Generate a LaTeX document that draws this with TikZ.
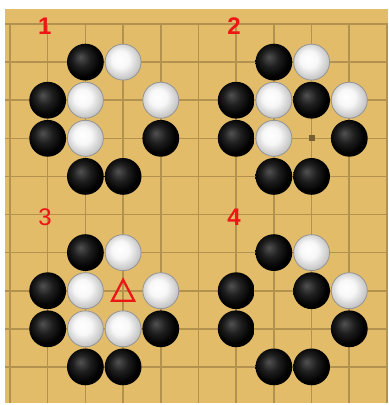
\documentclass[tikz,border=0pt]{standalone}
\usepackage{fontspec}
\setmainfont{Liberation Sans}
\usepackage{tikz}
\definecolor{board}{RGB}{226,188,105}
\definecolor{gridline}{RGB}{178,146,78}
\definecolor{hoshi}{RGB}{120,95,50}
\definecolor{markred}{RGB}{236,22,22}
\pgfdeclareradialshading{blackstone}{\pgfpoint{-7bp}{7bp}}{color(0bp)=(black!68); color(12bp)=(black!88); color(24bp)=(black); color(50bp)=(black)}
\pgfdeclareradialshading{whitestone}{\pgfpoint{-5bp}{5bp}}{color(0bp)=(white); color(12bp)=(white!97!black); color(24bp)=(white!80!black); color(30bp)=(white!72!black); color(50bp)=(white!72!black)}
\tikzset{
  bs/.style={circle, minimum size=36.8pt, inner sep=0pt, shading=blackstone},
  ws/.style={circle, minimum size=36pt, inner sep=0pt, shading=whitestone, draw=black!42, line width=0.8pt},
  num/.style={text=markred, font=\bfseries\fontsize{24}{24}\selectfont},
  thinnum/.style={text=markred, font=\fontsize{24}{24}\selectfont}
}

\begin{document}
\begin{tikzpicture}[x=37.7pt, y=-38.1pt]
\useasboundingbox (-0.265,-0.63) rectangle (10.027,10.0);
% board
\fill[board] (-0.133,-0.394) rectangle (10.027,9.95);
\foreach \r in {0,...,9}
  \draw[gridline, line width=1.6pt] (-0.133,\r) -- (10.027,\r);
\foreach \c in {0,...,10}
  \draw[gridline, line width=1.6pt] (\c,0) -- (\c,9.95);
\fill[hoshi] (8,3) +(-3pt,-3pt) rectangle +(3pt,3pt);
% labels
\node[num] (n1) at (0.92,0.05) {1};
\node[num] (n2) at (5.94,0.05) {2};
\node[thinnum] (n3) at (0.93,5.07) {3};
\node[num] (n4) at (5.94,5.07) {4};
% 1
\node[bs] (a-b1) at (2,1) {};
\node[ws] (a-w1) at (3,1) {};
\node[bs] (a-b2) at (1,2) {};
\node[ws] (a-w2) at (2,2) {};
\node[ws] (a-w3) at (4,2) {};
\node[bs] (a-b3) at (1,3) {};
\node[ws] (a-w4) at (2,3) {};
\node[bs] (a-b4) at (4,3) {};
\node[bs] (a-b5) at (2,4) {};
\node[bs] (a-b6) at (3,4) {};
% 2
\node[bs] (b-b1) at (7,1) {};
\node[ws] (b-w1) at (8,1) {};
\node[bs] (b-b2) at (6,2) {};
\node[ws] (b-w2) at (7,2) {};
\node[bs] (b-b3) at (8,2) {};
\node[ws] (b-w3) at (9,2) {};
\node[bs] (b-b4) at (6,3) {};
\node[ws] (b-w4) at (7,3) {};
\node[bs] (b-b5) at (9,3) {};
\node[bs] (b-b6) at (7,4) {};
\node[bs] (b-b7) at (8,4) {};
% 3
\node[bs] (c-b1) at (2,6) {};
\node[ws] (c-w1) at (3,6) {};
\node[bs] (c-b2) at (1,7) {};
\node[ws] (c-w2) at (2,7) {};
\node[ws] (c-w3) at (4,7) {};
\node[bs] (c-b3) at (1,8) {};
\node[ws] (c-w4) at (2,8) {};
\node[ws] (c-w5) at (3,8) {};
\node[bs] (c-b4) at (4,8) {};
\node[bs] (c-b5) at (2,9) {};
\node[bs] (c-b6) at (3,9) {};
\coordinate (tri) at (3,7);
\draw[draw=markred, line width=2.3pt] ([shift={(0pt,11pt)}]tri) -- ([shift={(-11pt,-10pt)}]tri)
  -- ([shift={(11pt,-10pt)}]tri) -- cycle;
% 4
\node[bs] (d-b1) at (7,6) {};
\node[ws] (d-w1) at (8,6) {};
\node[bs] (d-b2) at (6,7) {};
\node[bs] (d-b3) at (8,7) {};
\node[ws] (d-w2) at (9,7) {};
\node[bs] (d-b4) at (6,8) {};
\node[bs] (d-b5) at (9,8) {};
\node[bs] (d-b6) at (7,9) {};
\node[bs] (d-b7) at (8,9) {};
\end{tikzpicture}
\end{document}
